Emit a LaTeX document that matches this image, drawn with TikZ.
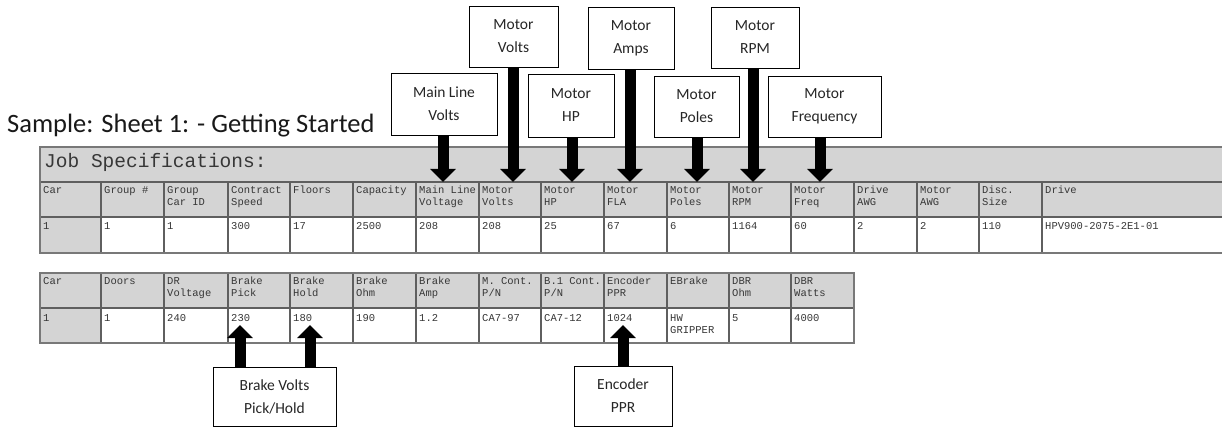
\documentclass[tikz,border=0pt]{standalone}
\usepackage{fontspec}
\setmainfont{Carlito}
\setmonofont{Liberation Mono}
\usetikzlibrary{arrows.meta}
\definecolor{cellgray}{RGB}{212,212,212}
\definecolor{linegray}{RGB}{95,95,95}
\definecolor{framegray}{RGB}{120,120,120}
\definecolor{txtgray}{RGB}{55,55,55}
\tikzset{
  tt/.style={font=\fontsize{10.5}{12}\selectfont\ttfamily, text=txtgray, inner sep=0pt, anchor=base west},
  hdrcell/.style={draw=linegray, line width=1.2pt, fill=cellgray},
  datcell/.style={draw=linegray, line width=1.2pt, fill=white},
  frame/.style={draw=framegray, line width=1.6pt},
  callout/.style={draw=black, line width=0.9pt, fill=white, align=center,
    font=\fontsize{15.5}{23}\selectfont, text=black!85, inner sep=0pt},
  bigarrow/.style={black, line width=11pt, -{Triangle[width=25pt,length=13pt]}}
}
\begin{document}
\begin{tikzpicture}[x=1pt,y=-1pt]
\useasboundingbox[fill=white] (0,0) rectangle (1222,427);

% title
\node[anchor=base west, inner sep=0pt, font=\fontsize{26.5}{30}\selectfont, text=black!90] (title) at (7,133) {Sample: Sheet 1: - Getting Started};

% ---------- table 1 ----------
\path[fill=cellgray] (40,147) rectangle (1224,182);
\node[anchor=base west, inner sep=0pt, font=\fontsize{19.5}{22}\selectfont\ttfamily, text=txtgray] (jobspec) at (44,168) {Job Specifications:};
\foreach \xa/\xb/\a/\b/\d [count=\i] in {
  40/101/Car//1,
  101/164/Group \#//1,
  164/228/Group/Car ID/1,
  228/290/Contract/Speed/300,
  290/353/Floors//17,
  353/416/Capacity//2500,
  416/479/Main Line/Voltage/208,
  479/541/Motor/Volts/208,
  541/604/Motor/HP/25,
  604/667/Motor/FLA/67,
  667/729/Motor/Poles/6,
  729/791/Motor/RPM/1164,
  791/854/Motor/Freq/60,
  854/917/Drive/AWG/2,
  917/979/Motor/AWG/2,
  979/1042/Disc./Size/110,
  1042/1224/Drive//HPV900-2075-2E1-01}
{
  \path[hdrcell] (\xa,182) rectangle (\xb,217);
  \path[datcell] (\xa,217) rectangle (\xb,253);
  \node[tt] (ha\i) at (\xa+3,194) {\a};
  \node[tt] (hb\i) at (\xa+3,206) {\b};
  \node[tt] (da\i) at (\xa+3,230) {\d};
}
\path[hdrcell] (40,217) rectangle (101,253);
\node[tt] (dacar) at (43,230) {1};
\path[frame] (40,147) rectangle (1224,253);

% ---------- table 2 ----------
\foreach \xa/\xb/\a/\b/\d/\e [count=\i] in {
  40/101/Car//1/,
  101/164/Doors//1/,
  164/228/DR/Voltage/240/,
  228/290/Brake/Pick/230/,
  290/353/Brake/Hold/180/,
  353/416/Brake/Ohm/190/,
  416/479/Brake/Amp/1.2/,
  479/541/M. Cont./{P/N}/CA7-97/,
  541/604/B.1 Cont./{P/N}/CA7-12/,
  604/667/Encoder/PPR/1024/,
  667/729/EBrake//HW/GRIPPER,
  729/791/DBR/Ohm/5/,
  791/854/DBR/Watts/4000/}
{
  \path[hdrcell] (\xa,273) rectangle (\xb,308);
  \path[datcell] (\xa,308) rectangle (\xb,343);
  \node[tt] (sa\i) at (\xa+3,285) {\a};
  \node[tt] (sb\i) at (\xa+3,297) {\b};
  \node[tt] (sd\i) at (\xa+3,321) {\d};
  \node[tt] (se\i) at (\xa+3,333) {\e};
}
\path[hdrcell] (40,308) rectangle (101,343);
\node[tt] (sdcar) at (43,321) {1};
\path[frame] (40,273) rectangle (854,343);

% ---------- callouts ----------
\node[callout, minimum width=106pt, minimum height=62pt] (mlv)  at (444,104)   {Main Line\\Volts};
\node[callout, minimum width=89pt,  minimum height=61pt] (mv)   at (513.5,36.5) {Motor\\Volts};
\node[callout, minimum width=86pt,  minimum height=63pt] (mhp)  at (571,105.5) {Motor\\HP};
\node[callout, minimum width=86pt,  minimum height=62pt] (mamp) at (631,38)    {Motor\\Amps};
\node[callout, minimum width=85pt,  minimum height=61pt] (mpol) at (696.5,106.5) {Motor\\Poles};
\node[callout, minimum width=88pt,  minimum height=61pt] (mrpm) at (755,37.5)  {Motor\\RPM};
\node[callout, minimum width=113pt, minimum height=61pt] (mfrq) at (824.5,106.5) {Motor\\Frequency};
\node[callout, minimum width=123pt, minimum height=59pt] (bv)   at (274.5,396.5) {Brake Volts\\Pick/Hold};
\node[callout, minimum width=98pt,  minimum height=60pt] (enc)  at (623,396)   {Encoder\\PPR};

% arrow tips
\coordinate (t1) at (443,182);
\coordinate (t2) at (513,182);
\coordinate (t3) at (572,182);
\coordinate (t4) at (630,182);
\coordinate (t5) at (697,182);
\coordinate (t6) at (753,182);
\coordinate (t7) at (820,182);
\coordinate (b1) at (240,325);
\coordinate (b2) at (310,325);
\coordinate (b3) at (623,325);

\draw[bigarrow] (mlv.south -| t1) -- (t1);
\draw[bigarrow] (mv.south -| t2) -- (t2);
\draw[bigarrow] (mhp.south -| t3) -- (t3);
\draw[bigarrow] (mamp.south -| t4) -- (t4);
\draw[bigarrow] (mpol.south -| t5) -- (t5);
\draw[bigarrow] (mrpm.south -| t6) -- (t6);
\draw[bigarrow] (mfrq.south -| t7) -- (t7);
\draw[bigarrow] (bv.north -| b1) -- (b1);
\draw[bigarrow] (bv.north -| b2) -- (b2);
\draw[bigarrow] (enc.north -| b3) -- (b3);
\end{tikzpicture}
\end{document}
